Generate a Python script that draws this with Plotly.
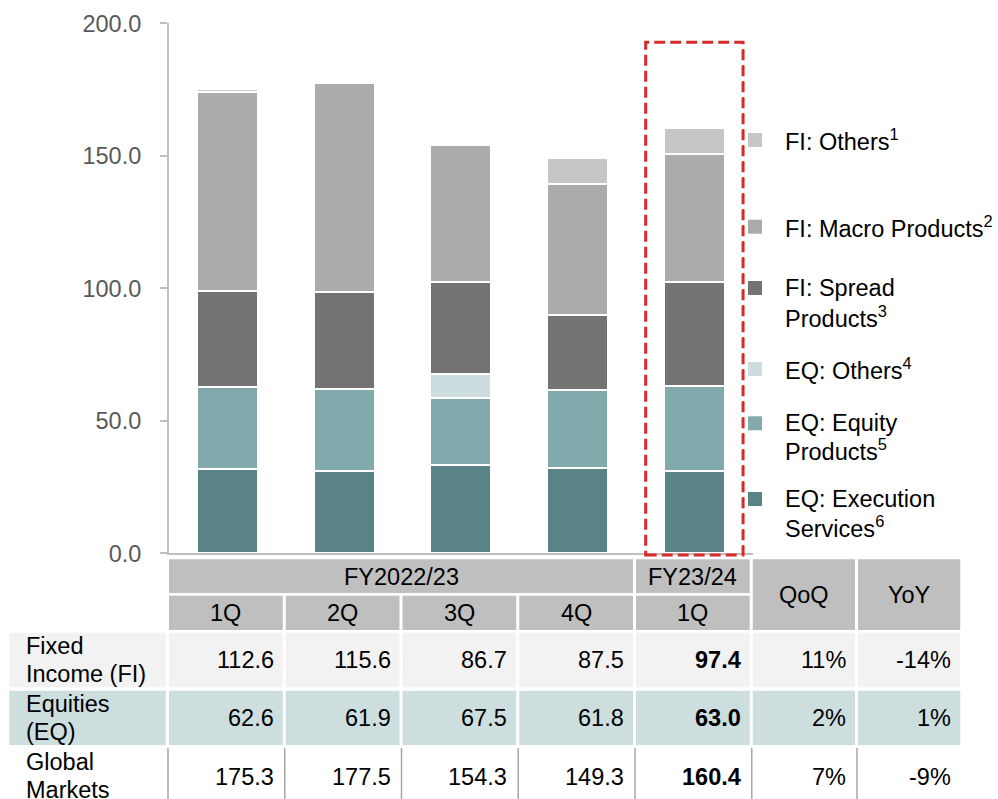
import plotly.graph_objects as go

# Quarters on the x axis
quarters = ["1Q FY2022/23", "2Q FY2022/23", "3Q FY2022/23", "4Q FY2022/23", "1Q FY23/24"]
quarter_labels = ["1Q", "2Q", "3Q", "4Q", "1Q"]

# Net revenue by product line (JPY bn)
eq_execution = [32.0, 31.0, 33.3, 32.3, 31.1]
eq_equity = [30.6, 30.9, 25.4, 29.5, 31.9]
eq_others = [0.0, 0.0, 8.8, 0.0, 0.0]
fi_spread = [36.4, 36.6, 34.8, 28.3, 39.4]
fi_macro = [75.0, 79.0, 51.9, 49.4, 48.1]
fi_others = [1.2, 0.0, 0.0, 9.8, 9.9]

# Summary table
fi_total = ["112.6", "115.6", "86.7", "87.5", "97.4"]
eq_total = ["62.6", "61.9", "67.5", "61.8", "63.0"]
gm_total = ["175.3", "177.5", "154.3", "149.3", "160.4"]
qoq = ["11%", "2%", "7%"]
yoy = ["-14%", "1%", "-9%"]
row_labels = [["Fixed", "Income (FI)"], ["Equities", "(EQ)"], ["Global", "Markets"]]

y_ticks = [0, 50, 100, 150, 200]

series = [
    ("EQ: Execution", "Services<sup>6</sup>", eq_execution, "#5a8387"),
    ("EQ: Equity", "Products<sup>5</sup>", eq_equity, "#82a9ab"),
    ("EQ: Others<sup>4</sup>", None, eq_others, "#cddddf"),
    ("FI: Spread", "Products<sup>3</sup>", fi_spread, "#737373"),
    ("FI: Macro Products<sup>2</sup>", None, fi_macro, "#ababab"),
    ("FI: Others<sup>1</sup>", None, fi_others, "#c6c6c6"),
]

W, H = 998, 799
FONT = "Arial, Liberation Sans, sans-serif"
FS = 23.5


def fx(px):
    return px / W


def fy(py):
    return 1 - py / H


fig = go.Figure()
for first, second, vals, color in series:
    fig.add_trace(go.Bar(
        x=quarters, y=vals, name=first, marker_color=color,
        marker_line_color="white", marker_line_width=2,
        width=0.522, showlegend=False, hoverinfo="x+y",
    ))

# Plot area geometry (pixels)
PL, PR, PT, PB = 169, 752.75, 23.3, 553.3
slot = (PR - PL) / 5

fig.update_layout(
    width=W, height=H, barmode="stack",
    margin=dict(l=0, r=0, t=0, b=0, pad=0, autoexpand=False),
    paper_bgcolor="white", plot_bgcolor="white",
    font=dict(family=FONT, size=FS, color="#000000"),
    xaxis=dict(domain=[fx(PL), fx(PR)], range=[-0.5, 4.5], showticklabels=False,
               showline=True, linecolor="#bfbfbf", linewidth=2, ticks="",
               showgrid=False, zeroline=False, fixedrange=True, automargin=False),
    yaxis=dict(domain=[fy(PB), fy(PT)], range=[0, 200], tickvals=y_ticks,
               tickformat=".1f", showline=True, linecolor="#bfbfbf", linewidth=2,
               ticks="outside", ticklen=7, tickwidth=2, tickcolor="#bfbfbf",
               ticklabelstandoff=14, automargin=False,
               tickfont=dict(family=FONT, size=FS, color="#595959"),
               showgrid=False, zeroline=False, fixedrange=True),
)

# Highlight of the latest quarter
fig.add_shape(type="rect", xref="x", yref="paper", x0=3.583, x1=4.417,
              y0=fy(555), y1=fy(42.2), line=dict(color="#d52b2b", width=3, dash="11px,5px"),
              fillcolor="rgba(0,0,0,0)", layer="above")

# Legend (squares and labels)
legend_rows = [
    (5, 140.0, None),
    (4, 226.7, None),
    (3, 288.0, 316.7),
    (2, 369.0, None),
    (1, 423.3, 450.0),
    (0, 499.0, 526.7),
]
for idx, y1, y2 in legend_rows:
    first, second, _, color = series[idx]
    fig.add_shape(type="rect", xref="paper", yref="paper", x0=fx(748), x1=fx(762),
                  y0=fy(y1 + 7), y1=fy(y1 - 7), fillcolor=color, line_width=0)
    fig.add_annotation(x=fx(782.7), y=fy(y1), xref="paper", yref="paper", text=first,
                       showarrow=False, xanchor="left", yanchor="middle",
                       font=dict(size=FS, color="#000000"))
    if second:
        fig.add_annotation(x=fx(782.7), y=fy(y2), xref="paper", yref="paper", text=second,
                           showarrow=False, xanchor="left", yanchor="middle",
                           font=dict(size=FS, color="#000000"))


# Table geometry
def rect(l, r, t, b, color):
    fig.add_shape(type="rect", xref="paper", yref="paper", x0=fx(l), x1=fx(r),
                  y0=fy(b), y1=fy(t), fillcolor=color, line_width=0)


def text(x, y, s, anchor="center", bold=False):
    fig.add_annotation(x=fx(x), y=fy(y), xref="paper", yref="paper",
                       text=f"<b>{s}</b>" if bold else s, showarrow=False,
                       xanchor=anchor, yanchor="middle",
                       font=dict(size=FS, color="#000000"))


HEAD = "#bfbfbf"
FI_BG = "#f2f2f2"
EQ_BG = "#cddedf"
col_w = slot - 3
cols = [(PL + i * slot, PL + i * slot + col_w) for i in range(5)]
extra_slot = 105.25
extra = [(PR + j * extra_slot, PR + j * extra_slot + 102.25) for j in range(2)]
all_cols = cols + extra

H1_T, H1_B = 559.3, 593.0
H2_T, H2_B = 595.7, 630.0
rows = [(632.7, 687.3), (690.7, 745.0), (748.0, 802.0)]

# Header
rect(cols[0][0], cols[3][1], H1_T, H1_B, HEAD)
text((cols[0][0] + cols[3][1]) / 2, 577, "FY2022/23")
rect(cols[4][0], cols[4][1], H1_T, H1_B, HEAD)
text((cols[4][0] + cols[4][1]) / 2, 577, "FY23/24")
for (l, r), lab in zip(cols, quarter_labels):
    rect(l, r, H2_T, H2_B, HEAD)
    text((l + r) / 2, 613.3, lab)
for (l, r), lab in zip(extra, ["QoQ", "YoY"]):
    rect(l, r, H1_T, H2_B, HEAD)
    text((l + r) / 2, 595, lab)

# Body rows
body = [
    (fi_total, qoq[0], yoy[0], FI_BG),
    (eq_total, qoq[1], yoy[1], EQ_BG),
    (gm_total, qoq[2], yoy[2], None),
]
for (top, bot), (vals, q, y, bg), labels in zip(rows, body, row_labels):
    mid = (top + bot) / 2 if bg else 776.7
    if bg:
        rect(9.3, 165.7, top, bot, bg)
        for l, r in all_cols:
            rect(l, r, top, bot, bg)
    else:
        for l, _ in all_cols:
            fig.add_shape(type="line", xref="paper", yref="paper", x0=fx(l - 1), x1=fx(l - 1),
                          y0=fy(bot), y1=fy(top), line=dict(color="#a6a6a6", width=1.5))
    lab_mid = (top + bot) / 2 if bg else 776.0
    text(24, lab_mid - 14.3, labels[0], anchor="left")
    text(24, lab_mid + 14.3, labels[1], anchor="left")
    cells = vals + [q, y]
    for k, ((l, r), s) in enumerate(zip(all_cols, cells)):
        text(r - 7, mid, s, anchor="right", bold=(k == 4))

fig.write_html("out.html")
